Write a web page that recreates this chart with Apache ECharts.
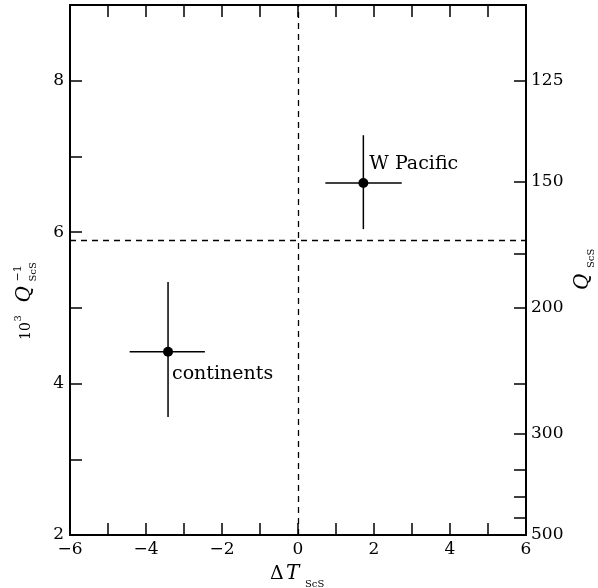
<!DOCTYPE html>
<html>
<head>
<meta charset="utf-8">
<script src="https://cdn.jsdelivr.net/npm/echarts@6/dist/echarts.min.js"></script>
<style>
  html, body { margin: 0; padding: 0; background: #fff; }
  #chart { width: 598px; height: 588px; }
</style>
</head>
<body>
<div id="chart"></div>
<script>
// data
const regions = ['W Pacific', 'continents'];
const deltaT = [1.72, -3.42];
const invQ = [6.65, 4.42];
const deltaTLow = [0.72, -4.43];
const deltaTHigh = [2.73, -2.45];
const invQLow = [6.04, 3.56];
const invQHigh = [7.28, 5.34];
const meanInvQ = 5.89;

// right axis: Q_ScS, placed at 1000 / Q on the left scale
const qLabels = [125, 150, 200, 300, 500];
const qTicks = [125, 150, 175, 200, 250, 300, 350, 400, 450, 500];

const FONT = 'DejaVu Serif';
const chart = echarts.init(document.getElementById('chart'));

const labelOffsets = [[1, -19], [-1, 22]];

function minus(v) {
    return v < 0 ? '\u2212' + (-v) : String(v);
}

const axisLine = { show: true, onZero: false, lineStyle: { color: '#000', width: 2 } };
const axisTick = { show: true, inside: true, length: 12, lineStyle: { color: '#000', width: 1.5 } };
const tickFont = { color: '#000', fontFamily: FONT, fontSize: 17 };

const option = {
    animation: false,
    backgroundColor: '#fff',
    grid: { left: 70, right: 72, top: 5, bottom: 53 },
    xAxis: [
        {
            type: 'value', min: -6, max: 6, interval: 1, position: 'bottom',
            axisLine, axisTick,
            axisLabel: Object.assign({ margin: 6, formatter: v => (v % 2 === 0 ? minus(v) : '') }, tickFont),
            splitLine: { show: false }
        },
        {
            type: 'value', min: -6, max: 6, interval: 1, position: 'top',
            axisLine, axisTick,
            axisLabel: { show: false },
            splitLine: { show: false }
        }
    ],
    yAxis: [
        {
            type: 'value', min: 2, max: 9, interval: 1, position: 'left',
            axisLine, axisTick,
            axisLabel: Object.assign({ margin: 6, formatter: v => (v % 2 === 0 && v < 9 ? String(v) : '') }, tickFont),
            splitLine: { show: false }
        },
        {
            type: 'value', min: 2, max: 9, position: 'right',
            axisLine,
            axisTick: Object.assign({}, axisTick, { customValues: qTicks.map(q => 1000 / q) }),
            axisLabel: Object.assign({
                margin: 5,
                customValues: qLabels.map(q => 1000 / q),
                formatter: v => String(Math.round(1000 / v))
            }, tickFont),
            splitLine: { show: false }
        }
    ],
    series: [
        {
            type: 'custom',
            xAxisIndex: 0, yAxisIndex: 0,
            encode: { x: 0, y: 1 },
            silent: true,
            data: regions.map((r, i) => [deltaT[i], invQ[i], deltaTLow[i], deltaTHigh[i], invQLow[i], invQHigh[i]]),
            renderItem: function (params, api) {
                const xl = api.coord([api.value(2), api.value(1)]);
                const xh = api.coord([api.value(3), api.value(1)]);
                const yl = api.coord([api.value(0), api.value(4)]);
                const yh = api.coord([api.value(0), api.value(5)]);
                const style = { stroke: '#000', lineWidth: 1.5 };
                return {
                    type: 'group',
                    children: [
                        { type: 'line', shape: { x1: xl[0], y1: xl[1], x2: xh[0], y2: xh[1] }, style },
                        { type: 'line', shape: { x1: yl[0], y1: yl[1], x2: yh[0], y2: yh[1] }, style }
                    ]
                };
            }
        },
        {
            type: 'scatter',
            xAxisIndex: 0, yAxisIndex: 0,
            symbolSize: 10,
            itemStyle: { color: '#000', opacity: 1 },
            silent: true,
            data: regions.map((r, i) => ({
                name: r,
                value: [deltaT[i], invQ[i]],
                label: {
                    show: true, position: 'right', distance: 0, offset: labelOffsets[i],
                    formatter: '{b}', color: '#000', fontFamily: FONT, fontSize: 19
                }
            })),
            markLine: {
                silent: true,
                symbol: ['none', 'none'],
                label: { show: false },
                lineStyle: { color: '#000', type: [6, 5], width: 1.3, opacity: 1 },
                data: [{ xAxis: 0 }, { yAxis: meanInvQ }]
            }
        }
    ],
    graphic: [
        // left axis title: 10^3 Q^-1_ScS
        {
            type: 'group', x: 31, y: 301.5, rotation: Math.PI / 2,
            children: [
                { type: 'text', x: -38.5, y: -5, style: { text: '10', font: '14px "DejaVu Serif"', fill: '#000', align: 'left', verticalAlign: 'middle' } },
                { type: 'text', x: -20, y: -13, style: { text: '3', font: '10px "DejaVu Serif"', fill: '#000', align: 'left', verticalAlign: 'middle' } },
                { type: 'text', x: -1, y: -6, style: { text: 'Q', font: 'italic 20px "DejaVu Serif"', fill: '#000', align: 'left', verticalAlign: 'middle' } },
                { type: 'text', x: 20, y: -13, style: { text: '\u22121', font: '11px "DejaVu Serif"', fill: '#000', align: 'left', verticalAlign: 'middle' } },
                { type: 'text', x: 20, y: 2, style: { text: 'ScS', font: '10px "DejaVu Serif"', fill: '#000', align: 'left', verticalAlign: 'middle' } }
            ]
        },
        // right axis title: Q_ScS
        {
            type: 'group', x: 590, y: 270, rotation: Math.PI / 2,
            children: [
                { type: 'text', x: -20, y: -7, style: { text: 'Q', font: 'italic 20px "DejaVu Serif"', fill: '#000', align: 'left', verticalAlign: 'middle' } },
                { type: 'text', x: 2, y: 1, style: { text: 'ScS', font: '10px "DejaVu Serif"', fill: '#000', align: 'left', verticalAlign: 'middle' } }
            ]
        },
        // x axis title: ΔT_ScS
        { type: 'text', x: 270, y: 574, style: { text: '\u0394', font: '19px "DejaVu Serif"', fill: '#000', align: 'left', verticalAlign: 'middle' } },
        { type: 'text', x: 286, y: 574, style: { text: 'T', font: 'italic 20px "DejaVu Serif"', fill: '#000', align: 'left', verticalAlign: 'middle' } },
        { type: 'text', x: 305, y: 584, style: { text: 'ScS', font: '10px "DejaVu Serif"', fill: '#000', align: 'left', verticalAlign: 'middle' } }
    ]
};

chart.setOption(option);
</script>
</body>
</html>
